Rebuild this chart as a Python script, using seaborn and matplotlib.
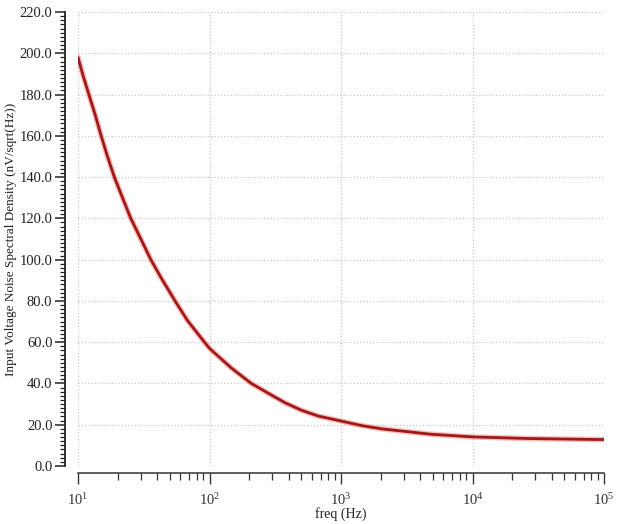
import matplotlib
matplotlib.use("Agg")
import matplotlib.pyplot as plt
import seaborn as sns
import pandas as pd
from matplotlib.ticker import MultipleLocator, FormatStrFormatter, LogLocator, NullFormatter

# data
freq_hz = [10, 10.95, 12.1, 13.45, 15.0, 16.7, 18.9, 21.8, 25.2, 29.7, 35.8,
           43.5, 54.7, 68.0, 91.6, 100, 146.5, 208, 279, 374, 501, 672,
           1000, 1430, 2040, 4800, 10000, 27000, 100000]
noise_nv = [198, 189, 180, 170.6, 160, 150.3, 140, 130, 120, 110.7, 100,
            90.5, 80, 70.5, 60, 57, 47.5, 40, 35.3, 30.7, 27.0, 24.2,
            21.8, 19.6, 18.0, 15.4, 14.1, 13.3, 12.8]

x_label = "freq (Hz)"
y_label = "Input Voltage Noise Spectral Density (nV/sqrt(Hz))"

df = pd.DataFrame({"freq": freq_hz, "noise": noise_nv})

sns.set_style("ticks")
plt.rcParams["font.family"] = ["Liberation Serif", "DejaVu Serif"]
plt.rcParams["mathtext.fontset"] = "custom"
plt.rcParams["mathtext.rm"] = "Liberation Serif"
plt.rcParams["mathtext.it"] = "Liberation Serif:italic"
plt.rcParams["mathtext.bf"] = "Liberation Serif:bold"

fig = plt.figure(figsize=(6.26, 5.24), dpi=100)
ax = fig.add_axes([78 / 626, 58 / 524, 526 / 626, 454 / 524])

sns.lineplot(data=df, x="freq", y="noise", ax=ax, color="#f07070",
             linewidth=4.0, alpha=0.45, sort=True)
sns.lineplot(data=df, x="freq", y="noise", ax=ax, color="#a11818",
             linewidth=2.0, sort=True)
for ln in ax.lines:
    ln.set_solid_joinstyle("round")
    ln.set_solid_capstyle("round")

ax.set_xscale("log")
ax.set_xlim(10, 1e5)
ax.set_ylim(0, 220)

ax.yaxis.set_major_locator(MultipleLocator(20))
ax.yaxis.set_minor_locator(MultipleLocator(2))
ax.yaxis.set_major_formatter(FormatStrFormatter("%.1f"))
ax.xaxis.set_major_locator(LogLocator(base=10, numticks=10))
ax.xaxis.set_minor_locator(LogLocator(base=10, subs=range(2, 10), numticks=20))
ax.xaxis.set_minor_formatter(NullFormatter())

ax.grid(True, which="major", linestyle=":", color="#c8c8c8", linewidth=0.9)

for s in ["top", "right"]:
    ax.spines[s].set_visible(False)
ax.spines["left"].set_position(("outward", 9.4))
ax.spines["bottom"].set_position(("outward", 5))
ax.spines["left"].set_linewidth(1.3)
ax.spines["bottom"].set_linewidth(1.1)
ax.spines["left"].set_color("#222222")
ax.spines["bottom"].set_color("#333333")

ax.tick_params(axis="y", which="major", direction="out", length=7, width=1.1,
               pad=2, labelsize=10.5, colors="#222222")
ax.tick_params(axis="y", which="minor", direction="out", length=3.6, width=0.9,
               colors="#222222")
ax.tick_params(axis="x", which="major", direction="out", length=8, width=1.0,
               pad=6, labelsize=10.5, colors="#333333")
ax.tick_params(axis="x", which="minor", direction="out", length=5, width=0.9,
               colors="#333333")

ax.set_xlabel(x_label, fontsize=10, color="#222222")
ax.set_ylabel(y_label, fontsize=9.5, color="#222222")
ax.xaxis.set_label_coords(0.5, -0.091)
ax.yaxis.set_label_coords(-0.116, 0.5)

fig.savefig("out.png", dpi=100, facecolor="white")
